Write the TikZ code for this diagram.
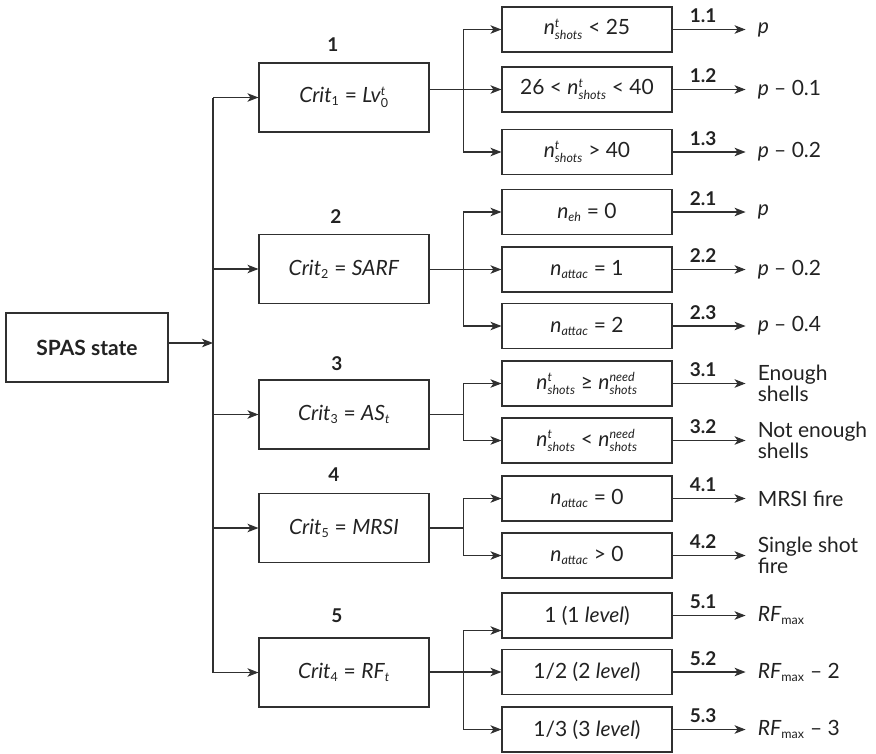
\documentclass[tikz,border=0pt]{standalone}
\usepackage{amsmath}
\usepackage{fontspec}
\setmainfont{Lato}
\usetikzlibrary{positioning, arrows.meta}

\definecolor{linecol}{HTML}{303030}
\definecolor{txtcol}{HTML}{222222}

\DeclareMathSizes{21}{21}{12.5}{10}
\newcommand{\mainsize}{\fontsize{21}{20.5}\selectfont}
\newcommand{\numsize}{\fontsize{19}{20}\selectfont}
\newcommand{\nshots}{\textit{n}$^{\textit{t}}_{\textit{shots}}$}
\newcommand{\nneed}{\textit{n}$^{\textit{need}}_{\textit{shots}}$}
\newcommand{\nattac}{\textit{n}$_{\textit{attac}}$}
\newcommand{\RFmax}{\textit{RF}$_{\textup{max}}$}

\begin{document}
\begin{tikzpicture}[x=1pt, y=-1pt, color=txtcol,
  critbox/.style={draw=linecol, line width=1.1pt, minimum width=170pt, minimum height=69pt, inner sep=0pt, font=\mainsize},
  condbox/.style={draw=linecol, line width=1.1pt, minimum width=170pt, minimum height=45pt, inner sep=0pt, font=\mainsize},
  result/.style={right=73pt of #1, align=left, inner xsep=12pt, inner ysep=0pt, font=\mainsize},
  num/.style={font=\numsize\bfseries, inner sep=0pt},
  arrow/.style={-{Stealth[length=11pt, width=8.5pt, inset=3pt]}, line width=1.1pt, draw=linecol},
  link/.style={line width=1.1pt, draw=linecol}
]
\useasboundingbox (0,0) rectangle (876,753);

% root and trunk
\node[critbox, minimum width=162pt, font=\mainsize\bfseries] (spas) at (87,347.5) {SPAS state};
\coordinate (trunk) at (213,343);
\draw[arrow] (spas.east |- trunk) -- (trunk);

% criteria
\node[critbox] (crit1) at (344,97.5) {\textit{Crit}$_{\textup{1}}$ = \textit{Lv}$^{\textit{t}}_{\textup{0}}$};
\node[critbox] (crit2) at (344,269) {\textit{Crit}$_{\textup{2}}$ = \textit{SARF}};
\node[critbox] (crit3) at (344,414.5) {\textit{Crit}$_{\textup{3}}$ = \textit{AS}$_{\textit{t}}$};
\node[critbox] (crit4) at (344,528) {\textit{Crit}$_{\textup{5}}$ = \textit{MRSI}};
\node[critbox] (crit5) at (344,672.5) {\textit{Crit}$_{\textup{4}}$ = \textit{RF}$_{\textit{t}}$};

\node[num] (num1) at (333,45) {1};
\node[num] (num2) at (336,217) {2};
\node[num] (num3) at (337,364) {3};
\node[num] (num4) at (334,475) {4};
\node[num] (num5) at (337,616) {5};

\draw[link] (crit1.west -| trunk) -- (crit5.west -| trunk);
\foreach \i in {1,...,5}
  \draw[arrow] (crit\i.west -| trunk) -- (crit\i.west);

% conditions
\node[condbox] (cond11) at (587,29.5) {\nshots{} < 25};
\node[condbox] (cond12) at (587,89.5) {26 < \nshots{} < 40};
\node[condbox] (cond13) at (587,152) {\nshots{} > 40};
\node[condbox] (cond21) at (587,212) {\textit{n}$_{\textit{eh}}$ = 0};
\node[condbox] (cond22) at (587,269.5) {\nattac{} = 1};
\node[condbox] (cond23) at (587,326) {\nattac{} = 2};
\node[condbox] (cond31) at (587,383.5) {\nshots{} ≥ \nneed};
\node[condbox] (cond32) at (587,440.5) {\nshots{} < \nneed};
\node[condbox] (cond41) at (587,498.5) {\nattac{} = 0};
\node[condbox] (cond42) at (587,555.5) {\nattac{} > 0};
\node[condbox] (cond51) at (587,615.5) {1 (1 \textit{level})};
\node[condbox] (cond52) at (587,672) {1/2 (2 \textit{level})};
\node[condbox] (cond53) at (587,729.5) {1/3 (3 \textit{level})};

% branches
\coordinate (j1) at ([xshift=-38pt]cond12.west);
\draw[arrow] (crit1.east |- j1) -- (cond12.west);
\draw[arrow] (j1) |- (cond11.west);
\draw[arrow] (j1) |- (cond13.west);

\coordinate (j2) at ([xshift=-38pt]cond22.west);
\draw[arrow] (crit2.east |- j2) -- (cond22.west);
\draw[arrow] (j2) |- (cond21.west);
\draw[arrow] (j2) |- (cond23.west);

\coordinate (j3) at (crit3.east -| j1);
\draw[link] (crit3.east) -- (j3);
\draw[arrow] (j3) |- (cond31.west);
\draw[arrow] (j3) |- (cond32.west);

\coordinate (j4) at (crit4.east -| j1);
\draw[link] (crit4.east) -- (j4);
\draw[arrow] (j4) |- (cond41.west);
\draw[arrow] (j4) |- (cond42.west);

\coordinate (j5) at ([xshift=-38pt]cond52.west);
\draw[arrow] (crit5.east |- j5) -- (cond52.west);
\draw[arrow] (j5) |- ([yshift=-15pt]cond51.west);
\draw[arrow] (j5) |- (cond53.west);

% results
\node[result=cond11] (res11) {\textit{p}};
\node[result=cond12] (res12) {\textit{p} -- 0.1};
\node[result=cond13] (res13) {\textit{p} -- 0.2};
\node[result=cond21] (res21) {\textit{p}};
\node[result=cond22] (res22) {\textit{p} -- 0.2};
\node[result=cond23] (res23) {\textit{p} -- 0.4};
\node[result=cond31] (res31) {Enough\\shells};
\node[result=cond32] (res32) {Not enough\\shells};
\node[result=cond41] (res41) {MRSI fire};
\node[result=cond42] (res42) {Single shot\\fire};
\node[result=cond51] (res51) {\RFmax};
\node[result=cond52] (res52) {\RFmax{} -- 2};
\node[result=cond53] (res53) {\RFmax{} -- 3};

\foreach \g/\k in {1/1,1/2,1/3,2/1,2/2,2/3,3/1,3/2,4/1,4/2,5/1,5/2,5/3}
  \draw[arrow] (cond\g\k.east) -- node[num, above=6pt, pos=0.42] (lab\g\k) {\g.\k} (res\g\k.west);
\end{tikzpicture}
\end{document}
